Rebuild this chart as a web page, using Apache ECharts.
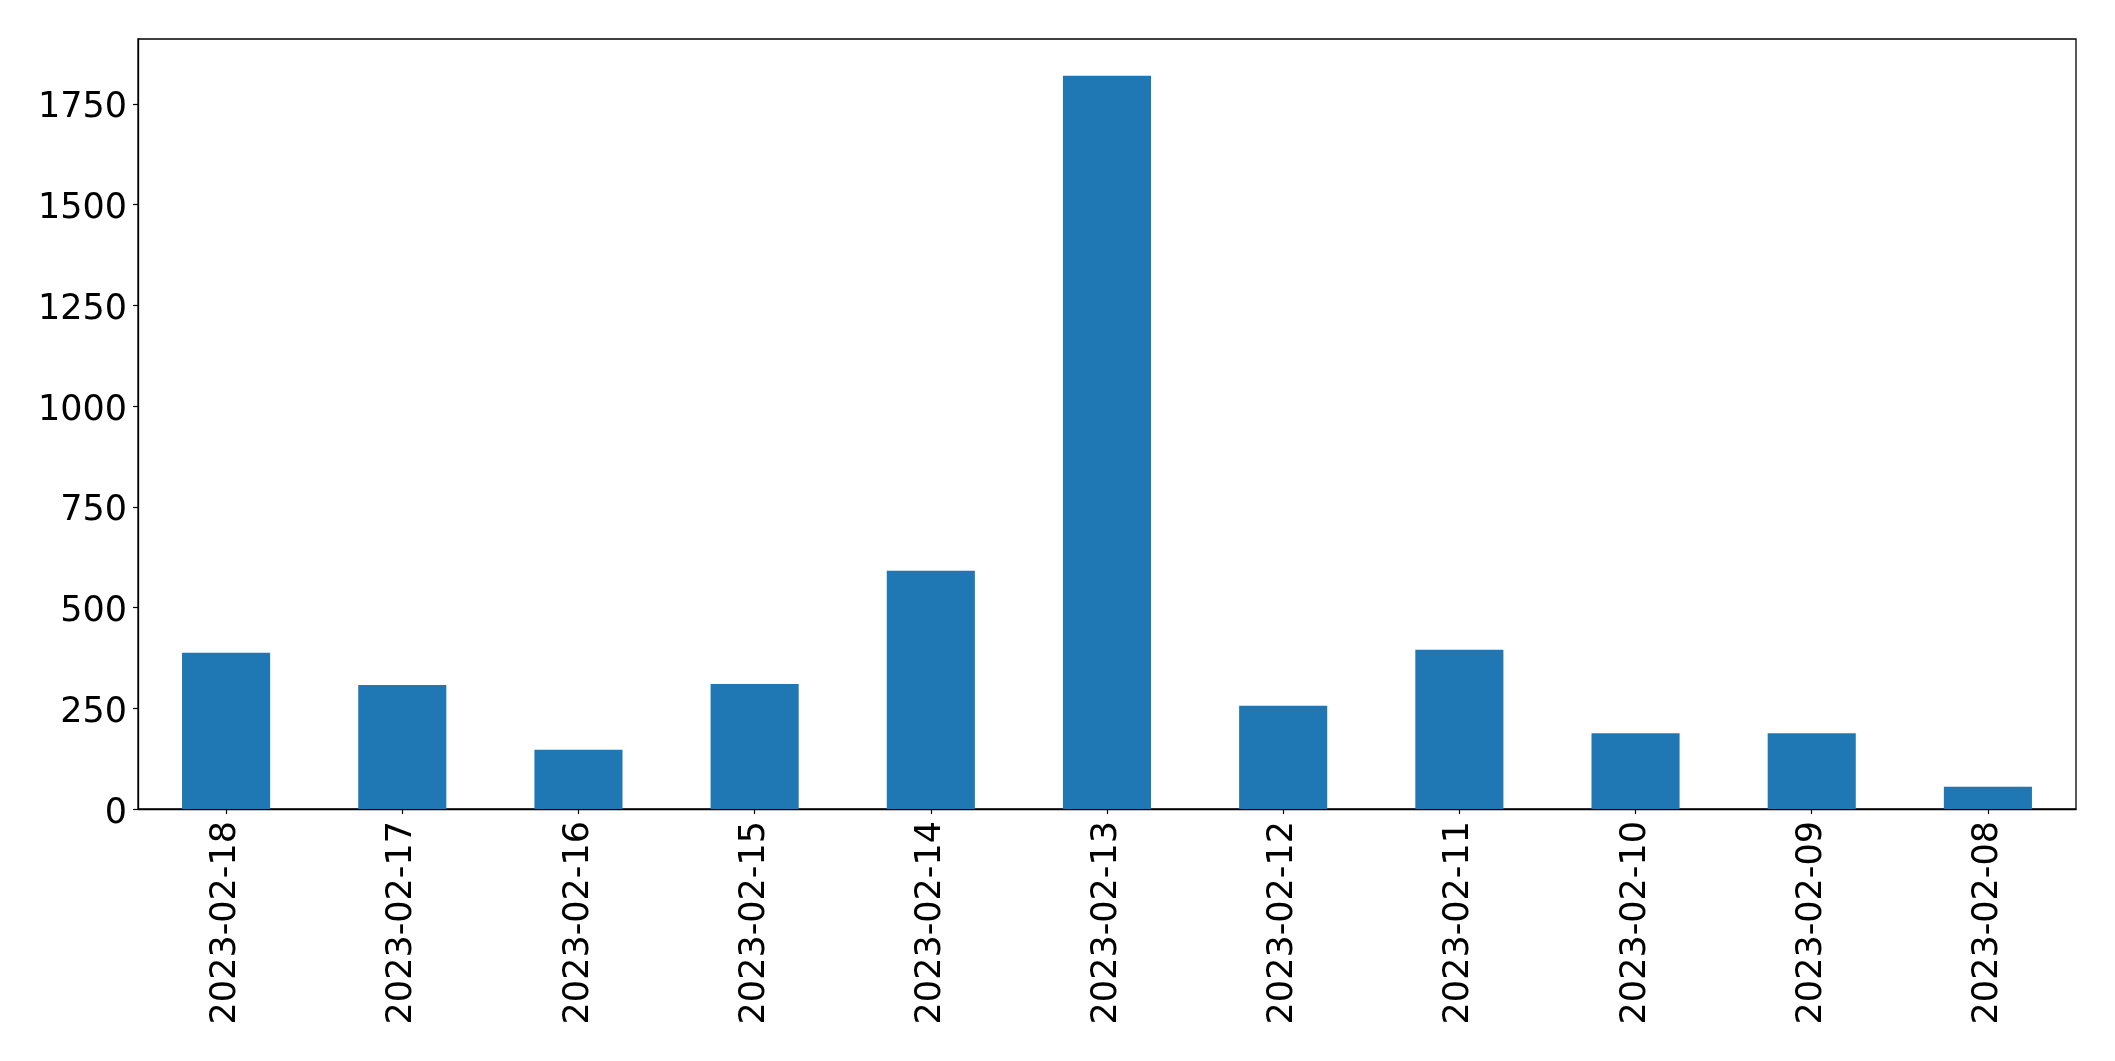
<!DOCTYPE html>
<html>
<head>
<meta charset="utf-8">
<script src="https://cdn.jsdelivr.net/npm/echarts@6/dist/echarts.min.js"></script>
<style>
html,body{margin:0;padding:0;background:#fff;}
#chart{width:2115px;height:1061px;}
</style>
</head>
<body>
<div id="chart"></div>
<script>
const categories = ['2023-02-18','2023-02-17','2023-02-16','2023-02-15','2023-02-14','2023-02-13','2023-02-12','2023-02-11','2023-02-10','2023-02-09','2023-02-08'];
const values = [388, 308, 147, 310, 591, 1820, 256, 395, 188, 188, 55];
const yTicks = [0, 250, 500, 750, 1000, 1250, 1500, 1750];
const yMax = 1911;

const chart = echarts.init(document.getElementById('chart'), null, {renderer: 'canvas'});
const font = 'DejaVu Sans';
chart.setOption({
  animation: false,
  backgroundColor: '#ffffff',
  grid: {
    left: 138, right: 39, top: 39, bottom: 252,
    show: true, borderColor: '#000', borderWidth: 1.3, backgroundColor: '#fff'
  },
  xAxis: {
    type: 'category',
    data: categories,
    boundaryGap: true,
    axisLine: {show: true, lineStyle: {color: '#000', width: 1.3}},
    axisTick: {show: true, alignWithLabel: true, length: 5, lineStyle: {color: '#000', width: 1.2}},
    axisLabel: {rotate: 90, color: '#000', fontSize: 35, fontFamily: font, margin: 12, interval: 0},
    splitLine: {show: false}
  },
  yAxis: {
    type: 'value',
    min: 0,
    max: yMax,
    axisLine: {show: true, lineStyle: {color: '#000', width: 1.3}},
    axisTick: {show: true, length: 5, customValues: yTicks, lineStyle: {color: '#000', width: 1.2}},
    axisLabel: {color: '#000', fontSize: 35, fontFamily: font, margin: 11, customValues: yTicks,
      verticalAlign: 'top', lineHeight: 9,
      formatter: function (v) { return String(v); }},
    splitLine: {show: false}
  },
  series: [{
    type: 'bar',
    data: values,
    barWidth: '50%',
    itemStyle: {color: '#1f77b4'}
  }]
});
</script>
</body>
</html>
